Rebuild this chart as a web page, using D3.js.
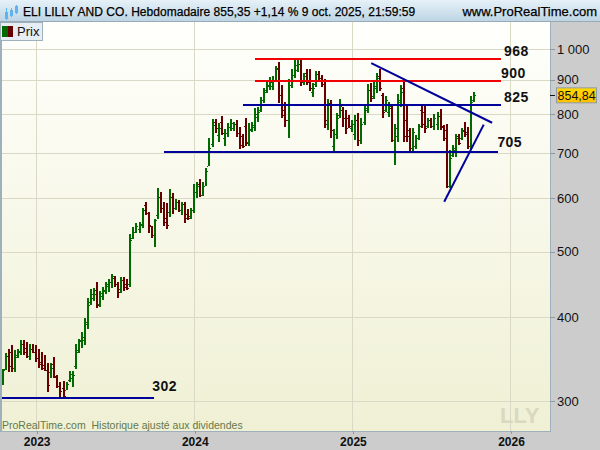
<!DOCTYPE html>
<html><head><meta charset="utf-8">
<style>html,body{margin:0;padding:0;background:#ccc}svg{display:block}text{font-family:"Liberation Sans",Arial,sans-serif}</style>
<script src="https://cdn.jsdelivr.net/npm/d3@7"></script></head><body><svg id="c" width="600" height="450"></svg>
<script>
const highs=[335,354,358.7,363,357.5,358.7,369,369,367,364,364,363,359,355,351.5,342,342,349,328,320.5,321.6,320.5,332,332,364,371,380.5,399,427,440,442,450,437.5,443.5,451,456,463.5,460,450,459,459,456,531,544,552,553,581,593,573,546,559,622,613,593,591,620,611,599,597,593,593,579,581,631,635,641,635,666,738,787,787,777,796,761,777,787,779,785,766,748,790,777,779,817,820,848,875,893,909,912,943,956,884,834,902,934,963,963,963,921,934,934,890,928,928,915,902,843,840,761,804,843,820,812,798,785,798,804,790,823,887,890,899,921,934,860,851,834,823,774,857,884,902,823,763,763,745,774,823,823,790,790,801,806,815,771,774,708,720,748,748,763,779,766,851,863];
const lows=[317,334,331.7,331.7,331.7,348,351.5,351.5,348,345.5,354,343,336,333,332,309,325,325,314,303.5,303.5,311,320.5,315,335,354,360,363,384,416,423,413,414,424,432,436,442,443.5,427,434.5,437.5,439,443.5,522,533,533,542,567,533,524,508,559,571,546,540.5,563,569,577,573,567,552,557,559,571,601,603,605,626,670,715,750,728,745,718,740,755,755,740,710,713,718,718,753,755,779,806,831,860,869,869,893,831,790,766,738,875,906,924,881,884,884,866,848,878,893,878,763,758,738,706,735,790,766,748,763,753,733,718,723,771,804,834,843,860,866,790,806,793,728,673,728,820,728,728,703,703,710,733,763,750,763,763,758,758,758,730,622,622,691,691,720,733,740,710,708,834];
const opens=[322.6,335,350,355,336,349,355,364,360,350,359,355,348,343,339,334,331,340,326,316,314,312,322.6,325,338.6,357.5,368,370,393.6,421,427,439,418.5,429,437.5,445,450,457,447,440,454,448,447,524,535,540,548,587,571,546,530,567,603,581,561,573,603,581,593,577,589,569,565,577,613,631,607,626,670,723,779,745,779,738,750,766,763,774,750,743,769,728,761,766,793,812,840,869,881,881,899,937,854,812,785,884,915,931,950,893,921,899,863,887,918,906,887,774,831,718,748,798,812,790,790,763,748,785,733,779,817,869,851,875,912,854,812,806,817,733,743,834,875,785,758,713,718,738,812,806,769,785,769,774,796,766,758,626,696,708,743,738,758,753,718,840];
const closes=[333,350,338.6,336,351.5,356,364,355,350,359,355,348,341,336,334,317,336,327,316,310,305.6,318,329.5,328,355,369,373,391,416,432,432,417,434.5,439,447,450,460,447,436,454,443.5,442,521,535,546,550,577,571,548,530,557,603,581,553,548,603,581,593,577,589,561,561,577,613,626,607,626,659,713,771,763,763,750,750,766,777,774,750,720,718,725,758,771,801,806,840,863,884,893,899,934,854,798,785,884,915,947,950,899,912,893,875,875,918,899,887,785,826,758,748,790,823,790,763,769,774,785,733,774,812,869,846,881,906,875,806,840,823,733,763,840,863,743,743,713,753,738,769,774,763,785,769,790,796,769,738,626,689,713,738,725,755,748,718,834,854.84];

const priceTicks=[1000,900,800,700,600,500,400,300];
const priceTickLabels=["1 000","900","800","700","600","500","400","300"];
const yearWeeks=[11,63,115,167];
const yearLabels=["2023","2024","2025","2026"];

const levelValues=[968,897,825,703,303];
const levelStart=[82.9,82.9,79,53,-1];
const levelEnd=[163.9,163.9,163.9,162.9,49.8];
const levelColors=["#f00000","#f00000","#00009a","#00009a","#00009a"];
const levelTexts=["968","900","825","705","302"];
const levelTextWeek=[164.9,163.9,164.9,162.7,49.2];
const levelTextPrice=[978,906,834,715,310];

const trendWeeks=[[121.2,160.95],[145.2,158.2]];
const trendPrices=[[953,777],[593,772]];

const x=d3.scaleLinear().domain([0,155]).range([2.7,474]);
const y=d3.scaleLog().domain([300,1000]).range([401,49]);
const L=1,R=550,T=22,B=431;
const GREEN="#006a00",RED="#680000";

const svg=d3.select("#c");
const defs=svg.append("defs");
function grad(id,stops){const g=defs.append("linearGradient").attr("id",id).attr("x1",0).attr("x2",0).attr("y1",0).attr("y2",1);
 stops.forEach(s=>g.append("stop").attr("offset",s[0]).attr("stop-color",s[1]));}
grad("plotG",[[0,"#fffffc"],[1,"#eff0d4"]]);
grad("headG",[[0,"#e6f1f8"],[1,"#bed5e4"]]);
grad("tagG",[[0,"#ffd800"],[1,"#ffc000"]]);
defs.append("clipPath").attr("id","pc").append("rect").attr("x",L).attr("y",T).attr("width",R-L).attr("height",B-T);

svg.append("rect").attr("width",600).attr("height",450).attr("fill","#cccccc");
svg.append("rect").attr("x",L).attr("y",T).attr("width",R-L).attr("height",B-T).attr("fill","url(#plotG)");

const grid=svg.append("g").attr("shape-rendering","crispEdges").attr("stroke","#d9d9c6").attr("stroke-width",1);
grid.selectAll("line.h").data(priceTicks).join("line").attr("x1",L).attr("x2",R).attr("y1",d=>Math.round(y(d))+.5).attr("y2",d=>Math.round(y(d))+.5);
grid.selectAll("line.v").data(yearWeeks).join("line").attr("y1",T).attr("y2",B).attr("x1",d=>Math.round(x(d))+.5).attr("x2",d=>Math.round(x(d))+.5);

const plot=svg.append("g").attr("clip-path","url(#pc)");
const bars=plot.append("g").attr("shape-rendering","crispEdges");
highs.forEach((h,i)=>{
 const col=closes[i]>=opens[i]?GREEN:RED, cx=Math.round(x(i));
 const g=bars.append("g").attr("fill",col);
 g.append("rect").attr("x",cx-1).attr("width",2).attr("y",Math.round(y(h))).attr("height",Math.max(1,Math.round(y(lows[i]))-Math.round(y(h))));
 g.append("rect").attr("x",cx-2).attr("width",1).attr("height",1).attr("y",Math.round(y(opens[i])));
 g.append("rect").attr("x",cx+1).attr("width",1).attr("height",1).attr("y",Math.round(y(closes[i])));
});

levelValues.forEach((v,i)=>{
 plot.append("line").attr("x1",x(levelStart[i])).attr("x2",x(levelEnd[i])).attr("y1",y(v)).attr("y2",y(v))
  .attr("stroke",levelColors[i]).attr("stroke-width",2).attr("shape-rendering","crispEdges");
 svg.append("text").attr("x",x(levelTextWeek[i])).attr("y",y(levelTextPrice[i])).text(levelTexts[i])
  .attr("font-size",14).attr("font-weight","bold").attr("letter-spacing",".4").attr("fill","#111");
});
trendWeeks.forEach((w,i)=>{
 plot.append("line").attr("x1",x(w[0])).attr("x2",x(w[1])).attr("y1",y(trendPrices[i][0])).attr("y2",y(trendPrices[i][1]))
  .attr("stroke","#00009a").attr("stroke-width",2);
});

// frame
const frame=svg.append("g").attr("shape-rendering","crispEdges");
frame.append("rect").attr("x",0).attr("y",T).attr("width",1.5).attr("height",B-T).attr("fill","#9fb0bd");
frame.append("rect").attr("x",R).attr("y",T).attr("width",1).attr("height",B-T+1).attr("fill","#9fb0bd");
frame.append("rect").attr("x",0).attr("y",B).attr("width",R+1).attr("height",1).attr("fill","#9fb0bd");

// axes
const ya=d3.axisRight(y).tickValues(priceTicks).tickFormat((d,i)=>priceTickLabels[i]).tickSize(5).tickPadding(2);
const yg=svg.append("g").attr("transform",`translate(${R},0)`).call(ya);
yg.select(".domain").remove();
yg.selectAll("line").attr("stroke","#8c9aa5").attr("shape-rendering","crispEdges");
yg.selectAll("text").attr("font-size",13).attr("fill","#111").attr("font-family",'"Liberation Sans"');
const xa=d3.axisBottom(x).tickValues(yearWeeks).tickFormat((d,i)=>yearLabels[i]).tickSize(3).tickPadding(3);
const xg=svg.append("g").attr("transform",`translate(0.5,${B})`).call(xa);
xg.select(".domain").remove();
xg.selectAll("line").attr("stroke","#8c9aa5").attr("shape-rendering","crispEdges");
xg.selectAll("text").attr("font-size",12).attr("font-weight","bold").attr("fill","#111").attr("font-family",'"Liberation Sans"');

// header
svg.append("rect").attr("width",600).attr("height",21).attr("fill","url(#headG)");
svg.append("rect").attr("y",21).attr("width",600).attr("height",1).attr("fill","#98aab8");
const ic=svg.append("g").attr("fill","#5db4ee").attr("shape-rendering","crispEdges");
[[5,12,7,8,20],[10,10,6,8,17],[15,6,7,5,14]].forEach(c=>{
 ic.append("rect").attr("x",c[0]).attr("y",c[1]).attr("width",3).attr("height",c[2]);
 ic.append("rect").attr("x",c[0]+1).attr("y",c[3]).attr("width",1).attr("height",c[4]-c[3]);
});
svg.append("text").attr("x",23).attr("y",16).attr("font-size",12).attr("letter-spacing",".03").attr("fill","#000").attr("stroke","#000").attr("stroke-width",.25)
 .text("ELI LILLY AND CO. Hebdomadaire 855,35 +1,14 % 9 oct. 2025, 21:59:59");
svg.append("text").attr("x",597).attr("y",16).attr("text-anchor","end").attr("font-size",13).attr("fill","#000").attr("stroke","#000").attr("stroke-width",.25).text("www.ProRealTime.com");

// legend
svg.append("rect").attr("x",0.5).attr("y",22.5).attr("width",42).attr("height",18).attr("fill","#e6edf3").attr("stroke","#9fb0bd");
svg.append("rect").attr("x",2).attr("y",26).attr("width",6).attr("height",11).attr("fill",GREEN);
svg.append("rect").attr("x",8).attr("y",26).attr("width",5).attr("height",11).attr("fill",RED);
svg.append("text").attr("x",17).attr("y",36).attr("font-size",13).attr("fill","#111").text("Prix");

// footers
svg.append("text").attr("x",2).attr("y",429).attr("font-size",10.5).attr("fill","#66784a").text("ProRealTime.com\u00a0\u00a0Historique ajusté aux dividendes");
svg.append("text").attr("x",500).attr("y",423).attr("font-size",22).attr("font-weight","bold").attr("fill","#d9d9c2").text("LLY");

// price tag
const lastClose=closes[closes.length-1];
svg.append("line").attr("x1",R).attr("x2",R+5).attr("y1",Math.round(y(lastClose))+.5).attr("y2",Math.round(y(lastClose))+.5).attr("stroke","#111");
svg.append("rect").attr("x",556.5).attr("y",y(lastClose)-7).attr("width",40).attr("height",15).attr("fill","url(#tagG)").attr("stroke","#8f9ba6");
svg.append("text").attr("x",557.5).attr("y",y(lastClose)+5).attr("font-size",12.5).attr("fill","#111").text(String(lastClose).replace(".",","));
</script></body></html>
